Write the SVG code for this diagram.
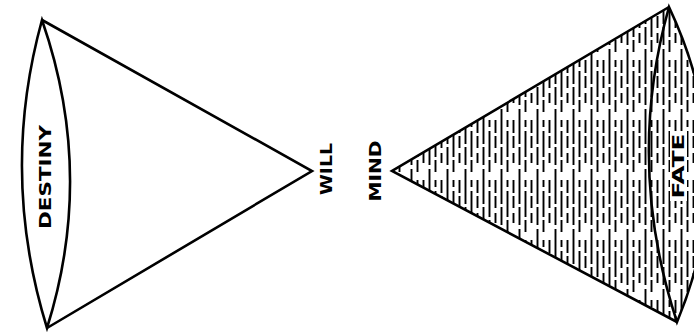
<svg xmlns="http://www.w3.org/2000/svg" width="694" height="335" viewBox="0 0 694 335">
<style>
.o{fill:none;stroke:#000;stroke-width:2.6;stroke-linejoin:miter}
.h{stroke:#000;stroke-width:1.9}
.t{font-family:"DejaVu Sans","Liberation Sans",sans-serif;font-weight:bold;fill:#000;text-anchor:middle;dominant-baseline:central}
</style>
<defs>
<pattern id="hatch" patternUnits="userSpaceOnUse" x="392" y="0" width="18" height="60">
<line class="h" x1="1.5" y1="0" x2="1.5" y2="60" stroke-dasharray="24 3 18 4 11"/>
<line class="h" x1="7.5" y1="0" x2="7.5" y2="60" stroke-dasharray="15 4 26 3 12" stroke-dashoffset="8"/>
<line class="h" x1="13.5" y1="0" x2="13.5" y2="60" stroke-dasharray="30 3 12 5 10" stroke-dashoffset="17"/>
</pattern>
<clipPath id="rc">
<path d="M392,171 L669,7 Q743,164 677,322 Z"/>
</clipPath>
</defs>
<g id="destiny">
<path class="o" d="M42,20 L312,171 L47,328"/>
<path class="o" d="M42,20 Q-0.5,174 47,328 Q95.5,174 42,20 Z"/>
<text class="t" transform="translate(45,177) rotate(-90)" font-size="16" textLength="104" lengthAdjust="spacingAndGlyphs">DESTINY</text>
</g>
<g id="will">
<text class="t" transform="translate(327,169) rotate(-90)" font-size="15" textLength="52" lengthAdjust="spacingAndGlyphs">WILL</text>
</g>
<g id="mind">
<text class="t" transform="translate(376,171) rotate(-90)" font-size="15" textLength="61" lengthAdjust="spacingAndGlyphs">MIND</text>
</g>
<g id="fate">
<rect x="380" y="0" width="330" height="335" fill="url(#hatch)" clip-path="url(#rc)"/>
<path class="o" d="M669,7 L392,171 L677,322"/>
<path class="o" d="M669,7 Q625,164 677,322 Q743,164 669,7 Z"/>
<rect x="670" y="131" width="17" height="70" fill="#fff"/>
<text class="t" transform="translate(678,166) rotate(-90)" font-size="16" textLength="65" lengthAdjust="spacingAndGlyphs">FATE</text>
</g>
</svg>
